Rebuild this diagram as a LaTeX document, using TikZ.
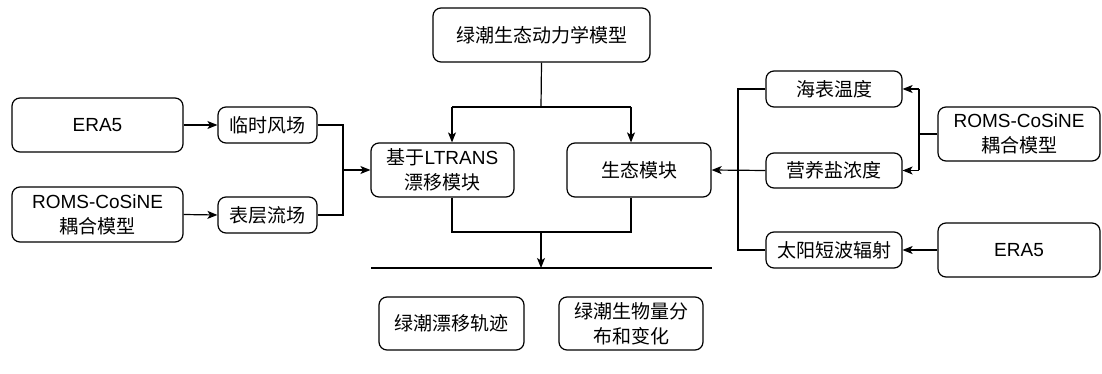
\documentclass[tikz,border=0pt]{standalone}
\usepackage{fontspec}
\setmainfont{Liberation Sans}
\newfontfamily\cjk{Noto Sans CJK SC}
\usetikzlibrary{arrows.meta}
\begin{document}
\begin{tikzpicture}[x=1pt,y=-1pt,
  box/.style={draw, line width=1.2pt, rounded corners=8pt, align=center, inner sep=0pt,
    font=\fontsize{19}{25}\selectfont},
  conn/.style={line width=1.2pt},
  arr/.style={line width=1.2pt, -{Stealth[length=10pt,width=8pt,inset=2.5pt]}}]
\useasboundingbox (0,0) rectangle (1102,374);
% left
\node[box, minimum width=171pt, minimum height=54pt] (era5l) at (97.5,125) {ERA5};
\node[box, minimum width=171pt, minimum height=55pt] (romsl) at (97.5,214.5) {ROMS-CoSiNE\\{\cjk 耦合模型}};
\node[box, minimum width=99pt, minimum height=36pt] (wind) at (267.5,125) {\cjk 临时风场};
\node[box, minimum width=99pt, minimum height=36pt] (curr) at (267.5,215) {\cjk 表层流场};
% center
\node[box, minimum width=217pt, minimum height=54pt] (top) at (541.5,35) {\cjk 绿潮生态动力学模型};
\node[box, minimum width=143pt, minimum height=54pt] (ltrans) at (442.5,170) {{\cjk 基于}LTRANS\\{\cjk 漂移模块}};
\node[box, minimum width=144pt, minimum height=54pt] (eco) at (639,170) {\cjk 生态模块};
\node[box, minimum width=145pt, minimum height=53pt] (traj) at (451.5,323.5) {\cjk 绿潮漂移轨迹};
\node[box, minimum width=144pt, minimum height=53pt] (bio) at (631,323.5) {\cjk 绿潮生物量分\\\cjk 布和变化};
% right
\node[box, minimum width=136pt, minimum height=36pt] (sst) at (834,89) {\cjk 海表温度};
\node[box, minimum width=136pt, minimum height=35pt] (nut) at (834,170.5) {\cjk 营养盐浓度};
\node[box, minimum width=136pt, minimum height=36pt] (sw) at (834,250) {\cjk 太阳短波辐射};
\node[box, minimum width=162pt, minimum height=54pt] (romsr) at (1019,134) {ROMS-CoSiNE\\{\cjk 耦合模型}};
\node[box, minimum width=162pt, minimum height=54pt] (era5r) at (1019,250) {ERA5};
% coordinates
\coordinate (jl) at (343,170);
\coordinate (ttop) at (541,107);
\coordinate (tl) at (452,107);
\coordinate (tr) at (631,107);
\coordinate (bl) at (452,232);
\coordinate (br) at (631,232);
\coordinate (bm) at (541,232);
\coordinate (hl) at (371,268);
\coordinate (hr) at (712,268);
\coordinate (hm) at (541,268);
\coordinate (rb) at (738,170.5);
\coordinate (rr) at (919,134);
% left connectors
\draw[arr] (era5l.east) -- (wind.west);
\draw[arr] (romsl.east) -- (curr.west);
\draw[conn] (wind.east) -| (jl) |- (curr.east);
\draw[arr] (jl) -- (ltrans.west);
% center connectors
\draw[conn] (top.south) -- (ttop);
\draw[conn] (tl) -- (tr);
\draw[arr] (tl) -- (tl |- ltrans.north);
\draw[arr] (tr) -- (tr |- eco.north);
\draw[conn] (bl |- ltrans.south) -- (bl) -- (br) -- (br |- eco.south);
\draw[arr] (bm) -- (hm);
\draw[conn] (hl) -- (hr);
% right connectors
\draw[conn] (sst.west) -| (rb) |- (sw.west);
\draw[arr] (nut.west) -- (eco.east);
\draw[conn] (romsr.west) -- (rr);
\draw[conn] (rr |- sst.east) -- (rr |- nut.east);
\draw[arr] (rr |- sst.east) -- (sst.east);
\draw[arr] (rr |- nut.east) -- (nut.east);
\draw[arr] (era5r.west) -- (sw.east);
\end{tikzpicture}
\end{document}
